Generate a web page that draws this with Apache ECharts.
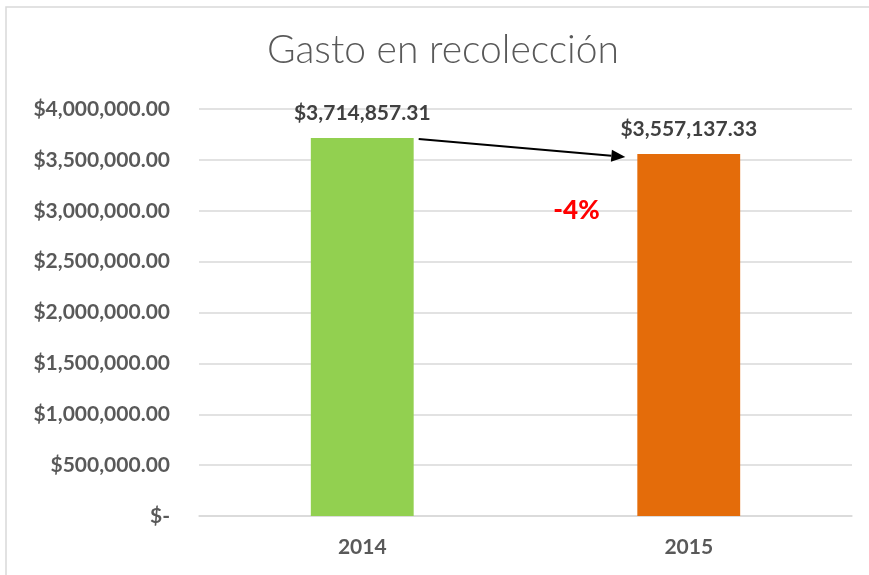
<!DOCTYPE html>
<html><head><meta charset="utf-8">
<script src="https://cdn.jsdelivr.net/npm/echarts@6/dist/echarts.min.js"></script>
<style>html,body{margin:0;padding:0;background:#fff}#c{width:869px;height:575px}</style>
</head><body><div id="c"></div>
<script>
const categories = ['2014', '2015'];
const values = [3714857.31, 3557137.33];
const barColors = ['#92d050', '#e46c0a'];
const changeLabel = '-4%';
const yTicks = [0, 500000, 1000000, 1500000, 2000000, 2500000, 3000000, 3500000, 4000000];

function money(v) {
  if (v === 0) return '$-';
  return '$' + v.toLocaleString('en-US', {minimumFractionDigits: 2, maximumFractionDigits: 2});
}
const chart = echarts.init(document.getElementById('c'), null, {renderer: 'canvas'});
const font = 'Lato, Open Sans, sans-serif';
const option = {
  animation: false,
  backgroundColor: '#fff',
  title: {
    text: 'Gasto en recolección', left: 262, top: 26,
    textStyle: {fontFamily: 'Lato, sans-serif', fontWeight: 300, fontSize: 39, color: '#595959'}
  },
  grid: {left: 199, right: 17, top: 109, bottom: 59},
  xAxis: {
    type: 'category', data: categories,
    axisLine: {show: true, lineStyle: {color: '#d9d9d9', width: 1.5}},
    axisTick: {show: false},
    axisLabel: {margin: 21, fontFamily: font, fontWeight: 'bold', fontSize: 21, color: '#595959'}
  },
  yAxis: {
    type: 'value', min: yTicks[0], max: yTicks[yTicks.length - 1], interval: yTicks[1] - yTicks[0],
    axisLine: {show: false}, axisTick: {show: false},
    splitLine: {lineStyle: {color: '#d9d9d9', width: 1.5}},
    axisLabel: {margin: 29, formatter: money, fontFamily: font, fontWeight: 'bold', fontSize: 21, color: '#595959'}
  },
  series: [{
    type: 'bar', barWidth: '31.5%',
    data: values.map((v, i) => ({value: v, itemStyle: {color: barColors[i]}})),
    label: {show: true, position: 'top', distance: 14, formatter: p => money(p.value),
      fontFamily: font, fontWeight: 'bold', fontSize: 21, color: '#404040'}
  }]
};
chart.setOption(option);

// annotation arrow & percentage via axis conversion
const p0 = chart.convertToPixel({seriesIndex: 0}, [0, values[0]]);
const p1 = chart.convertToPixel({seriesIndex: 0}, [1, values[1]]);
const band = p1[0] - p0[0];
const half = band * 0.315 / 2;
const x0 = p0[0] + half + 5, y0 = p0[1] + 1;
const x1 = p1[0] - half - 12, y1 = p1[1] + 3;
const ang = Math.atan2(y1 - y0, x1 - x0);
const ah = 14, aw = 6;
const bx = x1 - ah * Math.cos(ang), by = y1 - ah * Math.sin(ang);
const pm = chart.convertToPixel({seriesIndex: 0}, [0, 3000000]);
chart.setOption({
  graphic: [
    {type: 'line', shape: {x1: x0, y1: y0, x2: bx, y2: by}, style: {stroke: '#000', lineWidth: 2}},
    {type: 'polygon', shape: {points: [[x1, y1],
      [bx + aw * Math.sin(ang), by - aw * Math.cos(ang)],
      [bx - aw * Math.sin(ang), by + aw * Math.cos(ang)]]}, style: {fill: '#000'}},
    {type: 'text', x: (p0[0] + p1[0]) / 2 + 51, y: pm[1], style: {text: changeLabel,
      fontFamily: font, fontWeight: 900, fontSize: 26, fill: '#ff0000', align: 'center', verticalAlign: 'middle'}},
    {type: 'rect', shape: {x: 6, y: 7, width: 880, height: 600}, style: {fill: 'none', stroke: '#d9d9d9', lineWidth: 1.5}, silent: true}
  ]
});
</script></body></html>
